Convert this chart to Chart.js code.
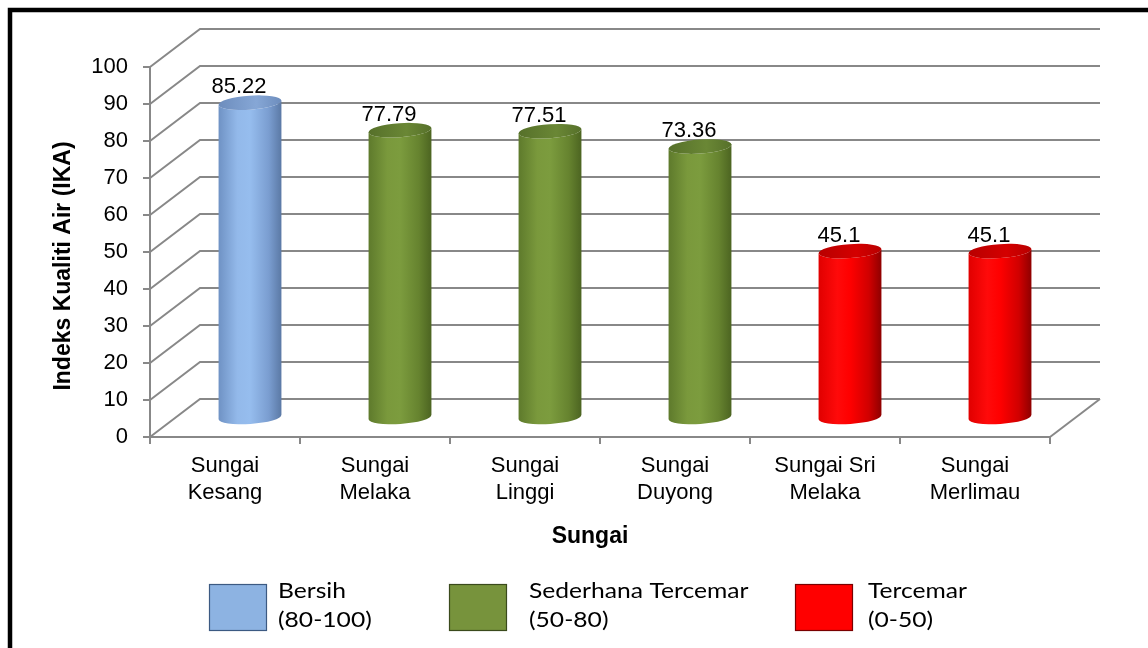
<!DOCTYPE html>
<html>
<head>
<meta charset="utf-8">
<script src="https://cdn.jsdelivr.net/npm/chart.js@4.4.1/dist/chart.umd.min.js"></script>
<style>
  html, body { margin: 0; padding: 0; background: #fff; overflow: hidden; }
  canvas { display: block; }
</style>
</head>
<body>
<canvas id="ika-chart" width="1148" height="648"></canvas>
<script>
// data
const rivers = [
    ["Sungai", "Kesang"],
    ["Sungai", "Melaka"],
    ["Sungai", "Linggi"],
    ["Sungai", "Duyong"],
    ["Sungai Sri", "Melaka"],
    ["Sungai", "Merlimau"]
];
const ikaValues = [85.22, 77.79, 77.51, 73.36, 45.1, 45.1];
const classNames = ["Bersih", "Sederhana Tercemar", "Tercemar"];
const classRanges = ["(80-100)", "(50-80)", "(0-50)"];
const classMin = [80, 50, 0];

// looks
const depthX = 50, depthY = -38;
const gridColor = "#888888";
const cylColors = [
    { body: ["#6f92c4", "#93b9ea", "#96bdee", "#7a9dd0", "#5b79a5"], top: ["#6d8dbd", "#86a7d6"], key: "#8db3e2", edge: "#3c5a82" },
    { body: ["#5e7a2c", "#7a993c", "#7c9c3e", "#66832f", "#4c6421"], top: ["#56702a", "#6a8735"], key: "#77933c", edge: "#3a4a1c" },
    { body: ["#e00000", "#ff0a0a", "#ff0000", "#d00000", "#8e0000"], top: ["#b80000", "#d40000"], key: "#ff0000", edge: "#7a0000" }
];

function classOf(v) {
    return classMin.findIndex(m => v >= m);
}

const scene3d = {
    id: "scene3d",
    beforeDatasetsDraw(chart) {
        const { ctx, chartArea: a, scales: { y } } = chart;
        ctx.save();
        ctx.strokeStyle = gridColor;
        ctx.lineWidth = 2;
        // side wall + back wall gridlines
        y.ticks.forEach(t => {
            const py = y.getPixelForValue(t.value);
            ctx.beginPath();
            ctx.moveTo(a.left, py);
            ctx.lineTo(a.left + depthX, py + depthY);
            ctx.lineTo(a.right + depthX, py + depthY);
            ctx.stroke();
        });
        // floor right edge
        ctx.beginPath();
        ctx.moveTo(a.right, a.bottom);
        ctx.lineTo(a.right + depthX, a.bottom + depthY);
        ctx.stroke();
        ctx.restore();
    },
    afterDatasetsDraw(chart) {
        const ctx = chart.ctx;
        const meta = chart.getDatasetMeta(0);
        const tilt = -0.07;
        ctx.save();
        meta.data.forEach((bar, i) => {
            const c = cylColors[classOf(ikaValues[i])];
            const rx = bar.width / 2, ry = 7;
            const cx = bar.x + depthX / 2;
            const ty = bar.y + depthY / 2;
            const by = bar.base + depthY / 2;
            const ex = rx * Math.cos(tilt), ey = rx * Math.sin(tilt);

            const g = ctx.createLinearGradient(cx - rx, 0, cx + rx, 0);
            g.addColorStop(0, c.body[0]);
            g.addColorStop(0.3, c.body[1]);
            g.addColorStop(0.5, c.body[2]);
            g.addColorStop(0.8, c.body[3]);
            g.addColorStop(1, c.body[4]);
            ctx.beginPath();
            ctx.moveTo(cx - ex, ty - ey);
            ctx.lineTo(cx - ex, by - ey);
            ctx.ellipse(cx, by, rx, ry, tilt, Math.PI, 0, true);
            ctx.lineTo(cx + ex, ty + ey);
            ctx.ellipse(cx, ty, rx, ry, tilt, 0, Math.PI, false);
            ctx.closePath();
            ctx.fillStyle = g;
            ctx.fill();

            const gt = ctx.createLinearGradient(cx - rx, 0, cx + rx, 0);
            gt.addColorStop(0, c.top[0]);
            gt.addColorStop(0.6, c.top[1]);
            gt.addColorStop(1, c.top[0]);
            ctx.beginPath();
            ctx.ellipse(cx, ty, rx, ry, tilt, 0, Math.PI * 2);
            ctx.fillStyle = gt;
            ctx.fill();

            // value label
            ctx.fillStyle = "#000";
            ctx.font = "22px 'Liberation Sans', Arial, sans-serif";
            ctx.textAlign = "center";
            ctx.textBaseline = "alphabetic";
            ctx.fillText(String(ikaValues[i]), cx - 11, ty - 9.5);
        });
        ctx.restore();
    },
    afterDraw(chart) {
        const ctx = chart.ctx;
        ctx.save();
        ctx.fillStyle = "#000";
        ctx.textAlign = "center";
        ctx.textBaseline = "alphabetic";

        // axis titles
        ctx.font = "bold 23px 'Liberation Sans', Arial, sans-serif";
        ctx.fillText("Sungai", 590, 543);
        ctx.save();
        ctx.translate(70, 266);
        ctx.rotate(-Math.PI / 2);
        ctx.fillText("Indeks Kualiti Air (IKA)", 0, 0);
        ctx.restore();

        // legend (Calibri-like text, slightly widened)
        const keyX = [209, 449, 795];
        const textX = [278, 529, 868];
        ctx.textAlign = "left";
        ctx.font = "22px Lato, 'Open Sans', sans-serif";
        const putText = (s, x, y) => {
            ctx.save();
            ctx.translate(x, y);
            ctx.scale(1.12, 1);
            ctx.fillText(s, 0, 0);
            ctx.restore();
        };
        classNames.forEach((name, k) => {
            ctx.fillStyle = cylColors[k].key;
            ctx.fillRect(keyX[k], 584, 58, 47);
            ctx.strokeStyle = cylColors[k].edge;
            ctx.lineWidth = 1.2;
            ctx.strokeRect(keyX[k] + 0.5, 584.5, 57, 46);
            ctx.fillStyle = "#000";
            putText(name, textX[k], 598);
            putText(classRanges[k], textX[k], 627);
        });

        // frame
        ctx.strokeStyle = "#000";
        ctx.lineWidth = 4.5;
        ctx.strokeRect(10, 10, 1200, 700);
        ctx.restore();
    }
};

Chart.defaults.font.family = "'Liberation Sans', Arial, sans-serif";
Chart.defaults.color = "#000";

const ikaChart = new Chart(document.getElementById("ika-chart").getContext("2d"), {
    type: "bar",
    data: {
        labels: rivers,
        datasets: [{
            data: ikaValues,
            backgroundColor: "rgba(0,0,0,0)",
            borderWidth: 0,
            barPercentage: 0.42,
            categoryPercentage: 1
        }]
    },
    options: {
        responsive: false,
        animation: false,
        layout: { padding: { top: 67, right: 98, bottom: 0, left: 0 } },
        plugins: {
            legend: { display: false },
            tooltip: { enabled: false }
        },
        scales: {
            x: {
                grid: { drawOnChartArea: false, drawTicks: true, tickLength: 7, color: gridColor, lineWidth: 2, offset: true },
                border: { color: gridColor, width: 2 },
                ticks: { font: { size: 22, lineHeight: 1.2 }, padding: 9, maxRotation: 0, autoSkip: false, color: "#000" },
                afterFit: s => { s.height = 211; }
            },
            y: {
                min: 0,
                max: 100,
                grid: { drawOnChartArea: false, drawTicks: true, tickLength: 7, color: gridColor, lineWidth: 2 },
                border: { color: gridColor, width: 2 },
                ticks: { stepSize: 10, font: { size: 22 }, padding: 15, color: "#000" },
                afterFit: s => { s.width = 150; }
            }
        }
    },
    plugins: [scene3d]
});
</script>
</body>
</html>
